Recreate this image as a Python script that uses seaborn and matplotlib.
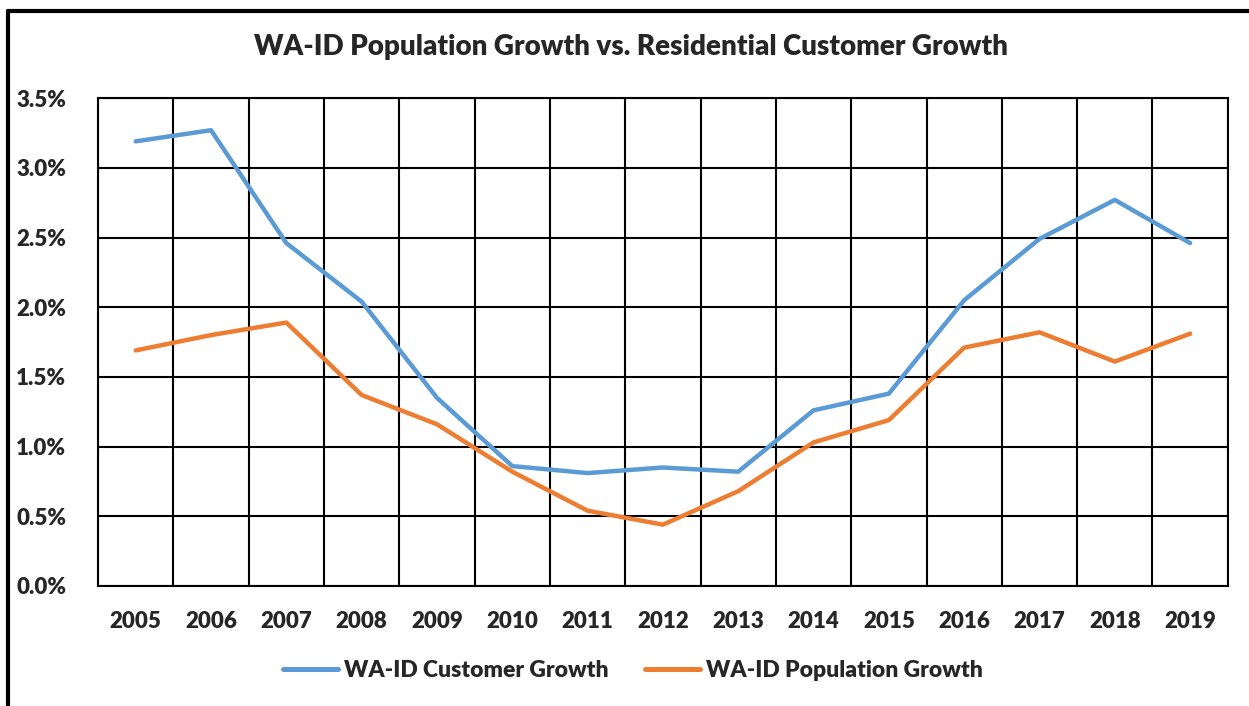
import pandas as pd
import seaborn as sns
import matplotlib.pyplot as plt
from matplotlib.lines import Line2D
from matplotlib.ticker import FuncFormatter, FixedLocator

years = [str(y) for y in range(2005, 2020)]
customer_growth = [3.19, 3.27, 2.46, 2.04, 1.35, 0.86, 0.81, 0.85, 0.82, 1.26, 1.38, 2.05, 2.49, 2.77, 2.46]
population_growth = [1.69, 1.80, 1.89, 1.37, 1.16, 0.82, 0.54, 0.44, 0.68, 1.03, 1.19, 1.71, 1.82, 1.61, 1.81]
series_names = ["WA-ID Customer Growth", "WA-ID Population Growth"]
y_ticks = [0.0, 0.5, 1.0, 1.5, 2.0, 2.5, 3.0, 3.5]

df = pd.DataFrame({
    "idx": list(range(len(years))) * 2,
    "value": customer_growth + population_growth,
    "series": [series_names[0]] * len(years) + [series_names[1]] * len(years),
})

sns.set_style("white")
plt.rcParams["font.family"] = ["Lato", "DejaVu Sans"]
plt.rcParams["font.weight"] = "heavy"

fig = plt.figure(figsize=(12.49, 7.06), dpi=100)
ax = fig.add_axes([0.0785, 0.170, 0.9045, 0.691])

palette = {series_names[0]: "#5B9BD5", series_names[1]: "#ED7D31"}
sns.lineplot(data=df, x="idx", y="value", hue="series", palette=palette,
             linewidth=3.2, ax=ax, legend=False)

ax.set_xlim(-0.5, len(years) - 0.5)
ax.set_ylim(0, 3.5)
ax.set_xticks(range(len(years)))
ax.set_xticklabels(years)
ax.xaxis.set_minor_locator(FixedLocator([i - 0.5 for i in range(len(years) + 1)]))
ax.set_yticks(y_ticks)
ax.yaxis.set_major_formatter(FuncFormatter(lambda v, p: f"{v:.1f}%"))
ax.grid(True, which="minor", axis="x", color="black", linewidth=1.5)
ax.grid(True, which="major", axis="y", color="black", linewidth=1.5)
ax.tick_params(axis="both", which="both", length=0, labelsize=16)
ax.tick_params(axis="x", pad=18)
ax.tick_params(axis="y", pad=23)
for lbl in ax.get_xticklabels() + ax.get_yticklabels():
    lbl.set_fontweight("heavy")
for s in ax.spines.values():
    s.set_color("black")
    s.set_linewidth(1.5)
ax.set_xlabel("")
ax.set_ylabel("")

fig.text(0.505, 0.933, "WA-ID Population Growth vs. Residential Customer Growth",
         ha="center", va="center", fontsize=20, fontweight="heavy")

handles = [Line2D([], [], color=palette[n], linewidth=3.6) for n in series_names]
fig.legend(handles, series_names, loc="center", bbox_to_anchor=(0.507, 0.050),
           ncol=2, frameon=False, prop={"size": 16.5, "weight": "heavy"},
           handlelength=2.4, handletextpad=0.25, columnspacing=1.6)

# outer chart frame (partially visible)
fig.add_artist(Line2D([0.0068, 1.0], [0.984, 0.984], color="black", linewidth=3,
                      transform=fig.transFigure))
fig.add_artist(Line2D([0.0068, 0.0068], [0.0, 0.984], color="black", linewidth=3,
                      transform=fig.transFigure))

fig.savefig("out.png", dpi=100)
